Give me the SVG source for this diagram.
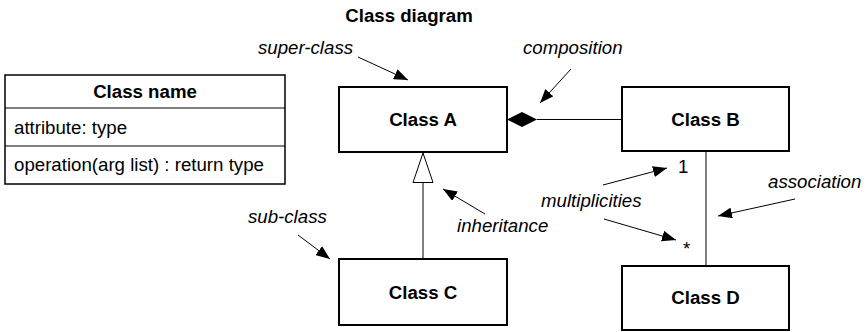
<svg xmlns="http://www.w3.org/2000/svg" width="867" height="332" viewBox="0 0 867 332">
  <style>
    text { font-family: "Liberation Sans", Arial, sans-serif; font-size: 18.67px; fill: #000; }
    .bold { font-weight: bold; }
    .label { font-style: italic; }
    .mid { text-anchor: middle; }
    .box { fill: #fff; stroke: #000; stroke-width: 2; }
    .legend { fill: #fff; stroke: #000; stroke-width: 1.5; }
    .rule { stroke: #000; stroke-width: 1.2; }
    .link { fill: none; stroke: #000; stroke-width: 1; }
    .pointer { fill: none; stroke: #000; stroke-width: 1; marker-end: url(#head); }
  </style>
  <defs>
    <marker id="head" viewBox="0 0 14 11" refX="14" refY="5.5" markerWidth="14" markerHeight="11" markerUnits="userSpaceOnUse" orient="auto">
      <path d="M0,0 L14,5.5 L0,11 z" fill="#000"/>
    </marker>
  </defs>

  <rect width="867" height="332" fill="#fff"/>

  <text class="bold mid" x="409" y="22">Class diagram</text>

  <!-- Legend: generic class box -->
  <g id="legend">
    <rect class="legend" x="5" y="75" width="280" height="109"/>
    <line class="rule" x1="5" y1="108" x2="285" y2="108"/>
    <line class="rule" x1="5" y1="146" x2="285" y2="146"/>
    <text class="bold mid" x="145" y="98">Class name</text>
    <text x="14" y="134">attribute: type</text>
    <text x="14" y="171">operation(arg list) : return type</text>
  </g>

  <!-- Connectors -->
  <g id="connectors">
    <!-- composition A <>— B -->
    <line class="link" x1="537" y1="119.5" x2="622" y2="119.5"/>
    <polygon points="507,119.5 522,112 537,119.5 522,127" fill="#000"/>
    <!-- inheritance C —|> A -->
    <line class="link" x1="423" y1="182.5" x2="423" y2="259"/>
    <polygon points="423,153 413,182.5 433,182.5" fill="#fff" stroke="#000" stroke-width="1"/>
    <!-- association B — D -->
    <line class="link" x1="706" y1="151" x2="706" y2="266"/>
  </g>

  <g id="classA">
    <rect class="box" x="339" y="87" width="168" height="65"/>
    <text class="bold mid" x="423" y="126">Class A</text>
  </g>
  <g id="classB">
    <rect class="box" x="622" y="87" width="167" height="64"/>
    <text class="bold mid" x="705.5" y="126">Class B</text>
  </g>
  <g id="classC">
    <rect class="box" x="339" y="259" width="168" height="66"/>
    <text class="bold mid" x="423" y="299">Class C</text>
  </g>
  <g id="classD">
    <rect class="box" x="622" y="266" width="167" height="64"/>
    <text class="bold mid" x="705.5" y="304">Class D</text>
  </g>

  <!-- Multiplicities -->
  <text x="678" y="173">1</text>
  <text x="683" y="255">*</text>

  <!-- Annotations -->
  <g id="annotations">
    <text class="label" x="258" y="54">super-class</text>
    <line class="pointer" x1="358" y1="57" x2="408" y2="80"/>

    <text class="label" x="523" y="54">composition</text>
    <line class="pointer" x1="571" y1="69" x2="540" y2="103"/>

    <text class="label" x="248" y="223">sub-class</text>
    <line class="pointer" x1="298" y1="235" x2="330" y2="259"/>

    <text class="label" x="457" y="232">inheritance</text>
    <line class="pointer" x1="485" y1="214" x2="443" y2="189"/>

    <text class="label" x="541" y="207">multiplicities</text>
    <line class="pointer" x1="603" y1="185" x2="667" y2="168"/>
    <line class="pointer" x1="604" y1="219" x2="676" y2="240"/>

    <text class="label" x="768" y="188">association</text>
    <line class="pointer" x1="795" y1="199" x2="718" y2="216"/>
  </g>
</svg>
